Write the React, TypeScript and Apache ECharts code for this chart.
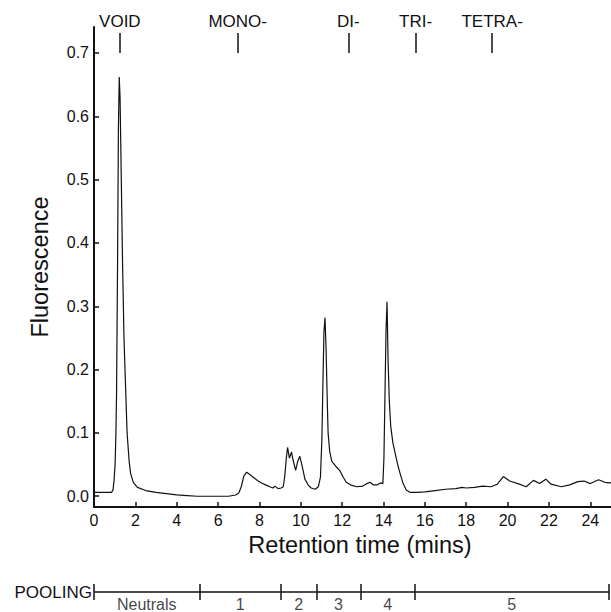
import React, { useEffect, useRef } from "react";
import * as echarts from "echarts";

// Chromatogram trace (retention time in minutes, fluorescence)
const retentionTime = [
  0.0, 0.5, 0.85, 0.92, 0.97, 1.02, 1.06, 1.09, 1.14, 1.18, 1.22, 1.26, 1.32, 1.38, 1.45, 1.52, 1.6, 1.7, 1.77, 1.9,
  2.1, 2.5, 3.0, 3.5, 4.0, 4.5, 5.0, 5.5, 6.0, 6.5, 6.85, 7.0, 7.12, 7.25, 7.38, 7.5, 7.7, 7.9, 8.1, 8.3,
  8.5, 8.65, 8.75, 8.9, 9.05, 9.15, 9.22, 9.3, 9.36, 9.45, 9.55, 9.62, 9.75, 9.85, 9.95, 10.05, 10.2, 10.35, 10.5, 10.7,
  10.85, 10.95, 11.02, 11.07, 11.12, 11.17, 11.22, 11.27, 11.32, 11.4, 11.5, 11.7, 11.9, 12.05, 12.2, 12.4, 12.7, 13.0, 13.2, 13.35,
  13.5, 13.7, 13.85, 13.97, 14.02, 14.07, 14.12, 14.17, 14.22, 14.28, 14.35, 14.45, 14.56, 14.7, 14.8, 14.95, 15.1, 15.3, 15.6, 16.0,
  16.5, 17.0, 17.5, 17.8, 18.0, 18.4, 18.8, 19.2, 19.5, 19.8, 20.1, 20.5, 20.9, 21.25, 21.55, 21.85, 22.1, 22.6, 23.0, 23.4,
  23.7, 24.0, 24.4, 24.7, 25.0,
];
const fluorescence = [
  0.006, 0.006, 0.006, 0.01, 0.025, 0.05, 0.1, 0.16, 0.37, 0.58, 0.662, 0.63, 0.5, 0.37, 0.25, 0.18, 0.1, 0.055, 0.036, 0.022,
  0.014, 0.009, 0.006, 0.004, 0.002, 0.001, 0.0, 0.0, 0.0, 0.0, 0.002, 0.005, 0.015, 0.032, 0.038, 0.035, 0.03, 0.025, 0.021, 0.018,
  0.015, 0.013, 0.016, 0.012, 0.013, 0.015, 0.03, 0.06, 0.077, 0.06, 0.07, 0.058, 0.041, 0.055, 0.063, 0.05, 0.027, 0.018, 0.013, 0.011,
  0.015, 0.03, 0.09, 0.18, 0.26, 0.282, 0.236, 0.163, 0.1, 0.07, 0.055, 0.047, 0.04, 0.03, 0.022, 0.018, 0.015, 0.016, 0.02, 0.022,
  0.018, 0.018, 0.021, 0.02, 0.06, 0.16, 0.26, 0.307, 0.215, 0.15, 0.11, 0.085, 0.068, 0.048, 0.036, 0.02, 0.01, 0.006, 0.006, 0.007,
  0.009, 0.011, 0.012, 0.014, 0.013, 0.014, 0.016, 0.015, 0.019, 0.031, 0.024, 0.02, 0.015, 0.025, 0.02, 0.027, 0.019, 0.015, 0.018, 0.023,
  0.024, 0.02, 0.026, 0.022, 0.021,
];

// Y tick labels
const yTicks = [0, 0.1, 0.2, 0.3, 0.4, 0.5, 0.6, 0.7];

// Elution markers at top
const markerNames = ["VOID", "MONO-", "DI-", "TRI-", "TETRA-"];
const markerTimes = [1.25, 6.95, 12.3, 15.55, 19.25];

// Pooling fractions
const poolBounds = [0, 5.1, 9.05, 10.75, 12.9, 15.5, 24.9];
const poolNames = ["Neutrals", "1", "2", "3", "4", "5"];

const FONT = "'Liberation Sans', Arial, Helvetica, sans-serif";
const INK = "#111";

export default function App() {
  const ref = useRef<HTMLDivElement>(null);

  useEffect(() => {
    if (!ref.current) return;
    const chart = echarts.init(ref.current, null, { renderer: "svg" });

    const trace = retentionTime.map((t, i) => [t, fluorescence[i]]);
    const markerTop = 0.7316;

    const option: any = {
      animation: false,
      grid: [
        { left: 94, right: 0, top: 27, bottom: 105 },
        { left: 94, right: 0, top: 584, height: 16 },
      ],
      xAxis: [
        {
          type: "value",
          gridIndex: 0,
          min: 0,
          max: 25,
          interval: 2,
          axisLine: { show: true, onZero: false, lineStyle: { color: INK, width: 2 } },
          axisTick: { show: true, inside: true, length: 5, lineStyle: { color: INK, width: 1.5 } },
          axisLabel: { showMaxLabel: false, color: INK, fontSize: 16, margin: 5, fontFamily: FONT },
          splitLine: { show: false },
          name: "Retention time (mins)",
          nameLocation: "middle",
          nameGap: 24,
          nameTextStyle: { color: INK, fontSize: 23.5, fontFamily: FONT, padding: [0, 0, 0, 15] },
        },
        { type: "value", gridIndex: 1, min: 0, max: 25, show: false },
      ],
      yAxis: [
        {
          type: "value",
          gridIndex: 0,
          min: -0.017,
          max: 0.741,
          axisLine: { show: true, onZero: false, lineStyle: { color: INK, width: 2 } },
          axisTick: {
            show: true,
            inside: true,
            length: 5,
            customValues: yTicks,
            lineStyle: { color: INK, width: 1.5 },
          },
          axisLabel: {
            customValues: yTicks,
            formatter: (v: number) => v.toFixed(1),
            color: INK,
            fontSize: 16,
            margin: 5,
            fontFamily: FONT,
          },
          splitLine: { show: false },
          name: "Fluorescence",
          nameLocation: "middle",
          nameGap: 42,
          nameTextStyle: { color: INK, fontSize: 23.5, fontFamily: FONT },
        },
        { type: "value", gridIndex: 1, min: 0, max: 1, show: false },
      ],
      graphic: [
        {
          type: "text",
          x: 92,
          y: 592,
          style: {
            text: "POOLING",
            align: "right",
            verticalAlign: "middle",
            fontSize: 17,
            fontFamily: FONT,
            fill: INK,
          },
        },
      ],
      series: [
        {
          type: "line",
          xAxisIndex: 0,
          yAxisIndex: 0,
          data: trace,
          showSymbol: false,
          symbol: "none",
          lineStyle: { color: INK, width: 1.2 },
          silent: true,
          markLine: {
            silent: true,
            symbol: "none",
            lineStyle: { color: INK, width: 1.5, type: "solid" },
            label: {
              show: true,
              position: "end",
              formatter: "{b}",
              color: INK,
              fontSize: 17,
              fontFamily: FONT,
              distance: 3,
            },
            emphasis: { disabled: true },
            data: markerTimes.map((t, i) => [
              { coord: [t, 0.7], name: markerNames[i] },
              { coord: [t, markerTop], name: markerNames[i] },
            ]),
          },
        },
        {
          type: "line",
          xAxisIndex: 1,
          yAxisIndex: 1,
          data: [
            [poolBounds[0], 0.5],
            [poolBounds[poolBounds.length - 1], 0.5],
          ],
          showSymbol: false,
          symbol: "none",
          lineStyle: { color: INK, width: 1.5 },
          silent: true,
          markLine: {
            silent: true,
            symbol: "none",
            label: { show: false },
            lineStyle: { color: INK, width: 1.5, type: "solid" },
            emphasis: { disabled: true },
            data: poolBounds.map((b) => ({ xAxis: b })),
          },
        },
        {
          type: "scatter",
          xAxisIndex: 1,
          yAxisIndex: 1,
          symbolSize: 1,
          itemStyle: { color: "rgba(0,0,0,0)" },
          silent: true,
          label: {
            show: true,
            position: "inside",
            offset: [0, 12],
            formatter: "{b}",
            color: INK,
            fontSize: 16,
            fontFamily: FONT,
          },
          data: poolNames.map((n, i) => ({
            name: n,
            value: [(poolBounds[i] + poolBounds[i + 1]) / 2, 0.5],
          })),
        },
      ],
    };

    chart.setOption(option);
    return () => chart.dispose();
  }, []);

  return (
    <div
      ref={ref}
      style={{ position: "fixed", left: 0, top: 0, width: 611, height: 612, background: "#fff" }}
    />
  );
}
